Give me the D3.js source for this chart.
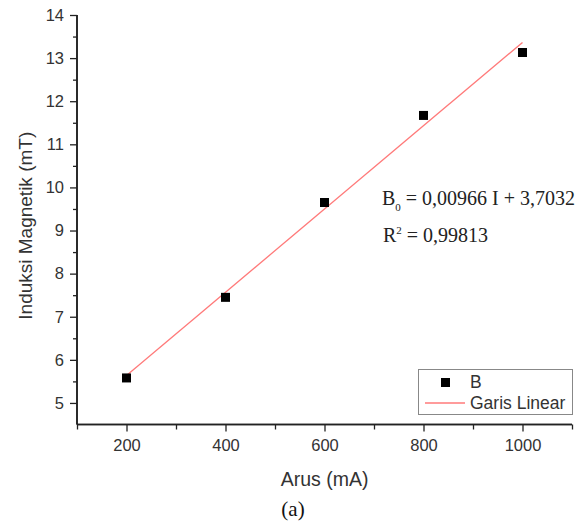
<!DOCTYPE html>
<html><head><meta charset="utf-8">
<script src="https://cdn.jsdelivr.net/npm/d3@7"></script>
<style>body{margin:0;background:#fff}svg{display:block}</style>
</head><body>
<script>
const current = [200, 400, 600, 800, 1000];
const field = [5.58, 7.45, 9.65, 11.67, 13.13];
const fitSlope = 0.00966, fitIntercept = 3.7032;
const fitRange = [200, 1000];
const xTicks = [200, 400, 600, 800, 1000];
const yTicks = [5, 6, 7, 8, 9, 10, 11, 12, 13, 14];

const W = 586, H = 522;
const svg = d3.select("body").append("svg").attr("width", W).attr("height", H);
const x = d3.scaleLinear().domain([100, 1100]).range([77, 572]);
const y = d3.scaleLinear().domain([4.5, 14]).range([424.5, 15]);
const font = "Liberation Sans, Arial, sans-serif";
const serif = "Liberation Serif, Times New Roman, serif";
const axCol = "#222", txtCol = "#333";

// Y axis
const gy = svg.append("g").attr("transform", "translate(77,0)");
gy.call(d3.axisLeft(y).tickValues(yTicks).tickSize(7).tickPadding(6).tickFormat(d3.format("d")));
gy.append("g").call(d3.axisLeft(y).tickValues(d3.range(5.5, 14, 1)).tickSize(4).tickFormat(""));
gy.selectAll(".domain").attr("stroke", axCol).attr("stroke-width", 1.6).attr("d", `M0,${y(4.5)}V${y(14)}`);
// X axis
const gx = svg.append("g").attr("transform", `translate(0,${y(4.5)})`);
gx.call(d3.axisBottom(x).tickValues(xTicks).tickSize(7).tickPadding(8).tickFormat(d3.format("d")));
gx.append("g").call(d3.axisBottom(x).tickValues([100, 300, 500, 700, 900, 1100]).tickSize(5).tickFormat(""));
gx.selectAll(".domain").attr("stroke", axCol).attr("stroke-width", 1.6).attr("d", `M${x(100)},0H${x(1100)}`);
svg.selectAll("g").attr("font-family", font).attr("font-size", 16.5);
svg.selectAll(".tick line").attr("stroke", axCol).attr("stroke-width", 1.3);
svg.selectAll(".tick text").attr("fill", txtCol).attr("font-family", font).attr("font-size", 16.5);

// Titles
svg.append("text").attr("transform", `translate(25,${y(9.25) + 6}) rotate(-90)`).attr("text-anchor", "middle")
  .attr("dy", "0.35em").attr("font-family", font).attr("font-size", 19).attr("fill", txtCol)
  .text("Induksi Magnetik (mT)");
svg.append("text").attr("x", x(600)).attr("y", 486).attr("text-anchor", "middle")
  .attr("font-family", font).attr("font-size", 19.5).attr("fill", txtCol).text("Arus (mA)");
svg.append("text").attr("x", 293).attr("y", 516).attr("text-anchor", "middle")
  .attr("font-family", serif).attr("font-size", 21).attr("fill", "#111").text("(a)");

// Fit line
svg.append("line")
  .attr("x1", x(fitRange[0])).attr("y1", y(fitSlope * fitRange[0] + fitIntercept))
  .attr("x2", x(fitRange[1])).attr("y2", y(fitSlope * fitRange[1] + fitIntercept))
  .attr("stroke", "#ff7a7a").attr("stroke-width", 1.3);

// Points
const s = 9;
svg.selectAll("rect.pt").data(current).enter().append("rect").attr("class", "pt")
  .attr("x", (d) => x(d) - s / 2).attr("y", (d, i) => y(field[i]) - s / 2)
  .attr("width", s).attr("height", s).attr("fill", "#000");

// Equation annotation
const eq = svg.append("text").attr("x", 382).attr("y", 205).attr("font-family", serif).attr("font-size", 20).attr("fill", "#222");
eq.append("tspan").text("B");
eq.append("tspan").attr("dy", 6).attr("font-size", 11).text("0");
eq.append("tspan").attr("dy", -6).text(" = 0,00966 I + 3,7032");
const r2 = svg.append("text").attr("x", 383).attr("y", 242).attr("font-family", serif).attr("font-size", 20).attr("fill", "#222");
r2.append("tspan").text("R");
r2.append("tspan").attr("dy", -8).attr("font-size", 11).text("2");
r2.append("tspan").attr("dy", 8).text(" = 0,99813");

// Legend
const lg = svg.append("g");
lg.append("rect").attr("x", 418.5).attr("y", 369.5).attr("width", 154).attr("height", 45)
  .attr("fill", "#fff").attr("stroke", "#888").attr("stroke-width", 1);
lg.append("rect").attr("x", 441).attr("y", 378).attr("width", 9).attr("height", 9).attr("fill", "#000");
lg.append("text").attr("x", 470).attr("y", 388).attr("font-family", font).attr("font-size", 17.5).attr("fill", txtCol).text("B");
lg.append("line").attr("x1", 425).attr("x2", 465).attr("y1", 403).attr("y2", 403).attr("stroke", "#ff7a7a").attr("stroke-width", 1.3);
lg.append("text").attr("x", 470).attr("y", 409).attr("font-family", font).attr("font-size", 17.5).attr("fill", txtCol).text("Garis Linear");
</script>
</body></html>
